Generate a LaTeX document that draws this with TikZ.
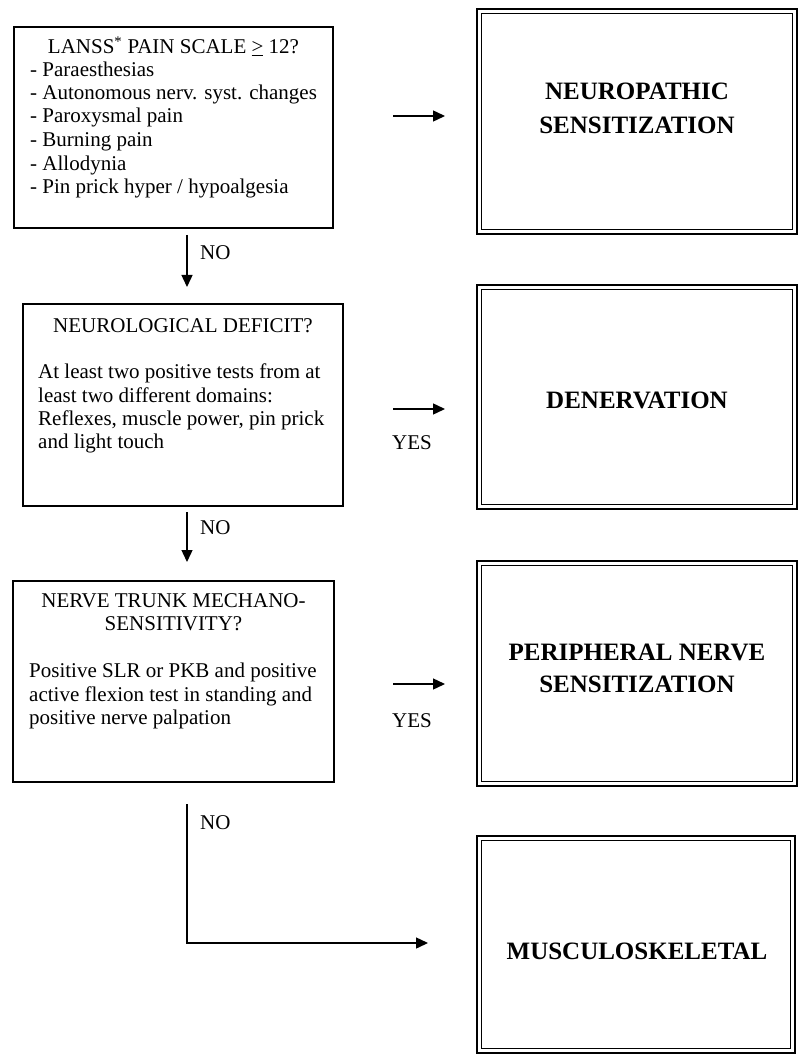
\documentclass[tikz,border=0pt]{standalone}
\usepackage{fontspec}
\setmainfont{Liberation Serif}
\usetikzlibrary{arrows.meta}
\begin{document}
\begin{tikzpicture}[x=1pt,y=-1pt,
  qbox/.style={draw, line width=2.4pt, inner sep=0pt, outer sep=0pt},
  rbox/.style={draw, line width=2.4pt, inner sep=0pt, outer sep=0pt},
  rinner/.style={line width=1.2pt},
  txt/.style={font=\fontsize{21}{23.5}\selectfont, inner sep=0pt, anchor=base west},
  ctxt/.style={font=\fontsize{21}{23.5}\selectfont, inner sep=0pt, anchor=base},
  big/.style={font=\fontsize{25}{34}\selectfont\bfseries, inner sep=0pt, anchor=base},
  conn/.style={line width=1.4pt, -{Triangle[length=12pt,width=11pt]}}]
\fill[white] (0,0) rectangle (798,1056);
\useasboundingbox (0,0) rectangle (798,1056);

% question boxes
\node[qbox, minimum width=319pt, minimum height=201pt] (b1) at (173.5,127.5) {};
\node[qbox, minimum width=320pt, minimum height=202pt] (b2) at (183,405) {};
\node[qbox, minimum width=321pt, minimum height=201pt] (b3) at (173.5,681.5) {};

% result boxes (double border)
\node[rbox, minimum width=320pt, minimum height=225pt] (r1) at (637,121.5) {};
\node[rbox, minimum width=320pt, minimum height=224pt] (r2) at (637,397) {};
\node[rbox, minimum width=320pt, minimum height=225pt] (r3) at (637,673.5) {};
\node[rbox, minimum width=318pt, minimum height=217pt] (r4) at (636,944.5) {};
\foreach \r in {r1,r2,r3,r4}{
  \draw[rinner] ([shift={(4.6pt,-4.6pt)}]\r.north west) rectangle ([shift={(-4.6pt,4.6pt)}]\r.south east);
}

% box 1 text
\node[ctxt] (t1a) at (173.5,54) {LANSS\textsuperscript{*} PAIN SCALE \underline{>} 12?};
\node[txt] (t1b) at (30,77) {- Paraesthesias};
\node[txt] (t1c) at (30,100) {- Autonomous nerv. syst. changes};
\node[txt] (t1d) at (30,123) {- Paroxysmal pain};
\node[txt] (t1e) at (30,147) {- Burning pain};
\node[txt] (t1f) at (30,171) {- Allodynia};
\node[txt] (t1g) at (30,194) {- Pin prick hyper / hypoalgesia};

% box 2 text
\node[ctxt] (t2a) at (183,332) {NEUROLOGICAL DEFICIT?};
\node[txt] (t2b) at (38,378) {At least two positive tests from at};
\node[txt] (t2c) at (38,402) {least two different domains:};
\node[txt] (t2d) at (38,425) {Reflexes, muscle power, pin prick};
\node[txt] (t2e) at (38,448) {and light touch};

% box 3 text
\node[ctxt] (t3a) at (173.5,607) {NERVE TRUNK MECHANO-};
\node[ctxt] (t3b) at (173.5,630) {SENSITIVITY?};
\node[txt] (t3c) at (29,677) {Positive SLR or PKB and positive};
\node[txt] (t3d) at (29,701) {active flexion test in standing and};
\node[txt] (t3e) at (29,724) {positive nerve palpation};

% result texts
\node[big] (u1a) at (637,100) {NEUROPATHIC};
\node[big] (u1b) at (637,134) {SENSITIZATION};
\node[big] (u2) at (637,408) {DENERVATION};
\node[big] (u3a) at (637,660) {PERIPHERAL NERVE};
\node[big] (u3b) at (637,692) {SENSITIZATION};
\node[big] (u4) at (637,959) {MUSCULOSKELETAL};

% connector endpoints
\coordinate (a1s) at (393,116); \coordinate (a1e) at (445,116);
\coordinate (a2s) at (393,409); \coordinate (a2e) at (445,409);
\coordinate (a3s) at (393,684); \coordinate (a3e) at (445,684);
\coordinate (d1s) at (187,235); \coordinate (d1e) at (187,287);
\coordinate (d2s) at (187,512); \coordinate (d2e) at (187,562);
\coordinate (d3s) at (187,804); \coordinate (d3e) at (428,943);

\draw[conn] (a1s) -- (a1e);
\draw[conn] (a2s) -- (a2e);
\draw[conn] (a3s) -- (a3e);
\draw[conn] (d1s) -- (d1e);
\draw[conn] (d2s) -- (d2e);
\draw[conn] (d3s) |- (d3e);

% labels
\node[txt] (n1) at (200,260) {NO};
\node[txt] (n2) at (200,534) {NO};
\node[txt] (n3) at (200,829) {NO};
\node[txt] (y2) at (392,449) {YES};
\node[txt] (y3) at (392,727) {YES};
\end{tikzpicture}
\end{document}
